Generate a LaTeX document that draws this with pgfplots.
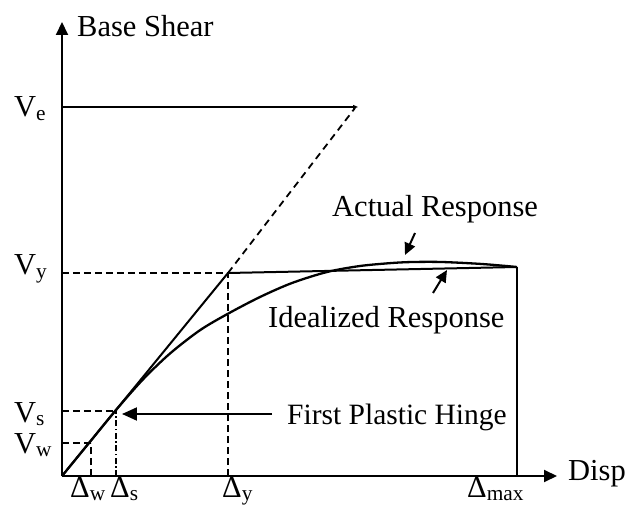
\documentclass[border=0pt]{standalone}
\usepackage{fontspec}
\setmainfont{Liberation Serif}
\usepackage{pgfplots}
\pgfplotsset{compat=1.18}
\usetikzlibrary{arrows.meta}
\tikzset{lbl/.style={font=\fontsize{30.5}{36}\selectfont, inner sep=0pt, anchor=base west}}
\begin{document}
\begin{tikzpicture}[x=1pt,y=1pt]
\path[use as bounding box] (-62,-31) rectangle (563,476);
\begin{axis}[
  x=1pt, y=1pt, anchor=origin, at={(0,0)},
  xmin=0, xmax=495, ymin=0, ymax=454,
  axis lines=left,
  axis line style={line width=2pt, -{Triangle[length=13pt,width=12pt]}},
  xtick=\empty, ytick=\empty,
  clip=false,
]
% idealized response
\addplot[black, line width=2pt] coordinates {(0,0) (166,203) (455,209)};
% actual response
\addplot[black, line width=2.3pt, smooth, tension=0.5] coordinates {
 (0,0) (29,35.5) (54,66) (81,96.6) (108,122.5) (138,145.8) (166,162.3)
 (198,179) (230,193) (265,204) (298,210) (330,213) (351,214) (380,214)
 (420,212) (455,209)};
% elastic extension (dashed)
\addplot[black, line width=1.8pt, dash pattern=on 7pt off 5pt] coordinates {(166,203) (293,368)};
% Ve line
\addplot[black, line width=1.1pt, -{Triangle[length=5pt,width=4pt]}] coordinates {(0,369) (296,369)};
% Vy and Delta y
\addplot[black, line width=1.8pt, dash pattern=on 7pt off 4pt] coordinates {(0,203) (166,203)};
\addplot[black, line width=1.8pt, dash pattern=on 7pt off 4pt] coordinates {(166,0) (166,203)};
% Vs and Delta s
\addplot[black, line width=1.8pt, dash pattern=on 7pt off 4pt] coordinates {(0,65) (54,65)};
\addplot[black, line width=1.8pt, dash pattern=on 6pt off 2.5pt on 1.5pt off 2.5pt] coordinates {(54,0) (54,65)};
% Vw and Delta w
\addplot[black, line width=1.8pt, dash pattern=on 7pt off 4pt] coordinates {(0,33) (29,33)};
\addplot[black, line width=1.8pt, dash pattern=on 7pt off 4pt] coordinates {(29,0) (29,33)};
% Delta max
\addplot[black, line width=1.2pt] coordinates {(455,0) (455,209)};
% annotation arrows
\draw[line width=2pt, -{Triangle[length=15pt,width=13pt]}] (axis cs:210,62) -- (axis cs:60,62);
\draw[line width=2pt, -{Triangle[length=12pt,width=11pt]}] (axis cs:353,243) -- (axis cs:343,221);
\draw[line width=2pt, -{Triangle[length=12pt,width=11pt]}] (axis cs:371,183) -- (axis cs:385,206);
% texts
\node[lbl] at (axis cs:15,439) {Base Shear};
\node[lbl] at (axis cs:506,-4) {Disp};
\node[lbl] at (axis cs:270,259) {Actual Response};
\node[lbl] at (axis cs:206,149) {Idealized Response};
\node[lbl, font=\fontsize{29.5}{36}\selectfont] at (axis cs:225,52) {First Plastic Hinge};
\node[lbl] at (axis cs:-48,359) {V\textsubscript{e}};
\node[lbl] at (axis cs:-48,201) {V\textsubscript{y}};
\node[lbl] at (axis cs:-48,54) {V\textsubscript{s}};
\node[lbl] at (axis cs:-48,23) {V\textsubscript{w}};
\node[lbl] at (axis cs:8,-21) {Δ\textsubscript{w}};
\node[lbl] at (axis cs:48,-21) {Δ\textsubscript{s}};
\node[lbl] at (axis cs:160,-21) {Δ\textsubscript{y}};
\node[lbl] at (axis cs:405,-21) {Δ\textsubscript{max}};
\end{axis}
\end{tikzpicture}
\end{document}
